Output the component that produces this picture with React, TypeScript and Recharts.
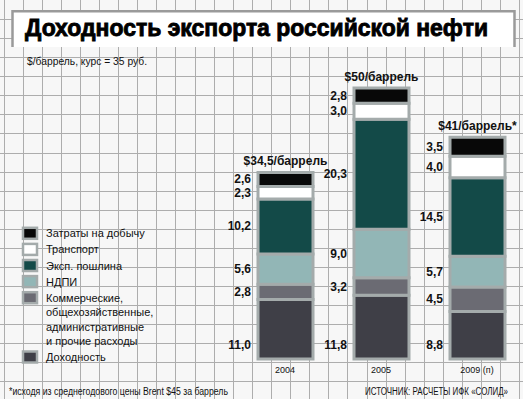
import { BarChart, Bar, XAxis, YAxis, LabelList } from 'recharts';

// Доходность экспорта российской нефти, $/баррель
const years = ['2004', '2005', '2009 (п)'];
const dokhodnost = [11.0, 11.8, 8.8];
const kommercheskie = [2.8, 3.2, 4.5];
const ndpi = [5.6, 9.0, 5.7];
const poshlina = [10.2, 20.3, 14.5];
const transport = [2.3, 3.0, 4.0];
const zatraty = [2.6, 2.8, 3.5];
const totalLabels = ['$34,5/баррель', '$50/баррель', '$41/баррель*'];

const rows = years.map((year, i) => ({
  year,
  dokhodnost: dokhodnost[i],
  kommercheskie: kommercheskie[i],
  ndpi: ndpi[i],
  poshlina: poshlina[i],
  transport: transport[i],
  zatraty: zatraty[i],
  total: totalLabels[i],
}));

// bottom to top
const series = [
  { key: 'dokhodnost', color: '#3f3f47' },
  { key: 'kommercheskie', color: '#6b6b73' },
  { key: 'ndpi', color: '#92b6b6' },
  { key: 'poshlina', color: '#134a48' },
  { key: 'transport', color: '#ffffff' },
  { key: 'zatraty', color: '#080808' },
];

const legendItems = [
  { lines: ['Затраты на добычу'], color: '#080808' },
  { lines: ['Транспорт'], color: '#ffffff' },
  { lines: ['Эксп. пошлина'], color: '#134a48' },
  { lines: ['НДПИ'], color: '#92b6b6' },
  { lines: ['Коммерческие,', 'общехозяйственные,', 'административные', 'и прочие расходы'], color: '#6b6b73' },
  { lines: ['Доходность'], color: '#3f3f47' },
];

const FONT = '"Liberation Sans", Arial, sans-serif';
const BORDER = '#a4abab';
const W = 523;
const H = 399;

const fmt = (v: number) => v.toFixed(1).replace('.', ',');

const sideLabel = (atBottom: boolean) => (props: any) => {
  const { x, y, width, height, value } = props;
  const ty = atBottom ? y + height - 14 : y + height / 2;
  return (
    <text x={x - 7} y={ty} textAnchor="end" dominantBaseline="central"
      fontFamily={FONT} fontSize={12} fontWeight="bold" fill="#111">
      {fmt(value)}
    </text>
  );
};

const topLabel = (props: any) => {
  const { x, y, width, value } = props;
  return (
    <text x={x + width / 2} y={y - 11} textAnchor="middle" dominantBaseline="central"
      fontFamily={FONT} fontSize={12} fontWeight="bold" fill="#111">
      {value}
    </text>
  );
};

const Background = () => {
  const vlines = [];
  for (let x = 3.6; x < W; x += 19.1) vlines.push(Math.round(x) + 0.5);
  const hlines = [];
  for (let y = 19.3; y < H; y += 19.03) hlines.push(Math.round(y) + 0.5);

  let ly = 233.3;
  const legend = legendItems.map((item, i) => {
    const cy = ly;
    ly += 16.1 + (item.lines.length - 1) * 14.4;
    return (
      <g key={i}>
        <rect x={23} y={cy - 5.5} width={14} height={11} fill={item.color} stroke={BORDER} strokeWidth={2.5} />
        {item.lines.map((t, j) => (
          <text key={j} x={46} y={cy + j * 14.4} dominantBaseline="central"
            fontFamily={FONT} fontSize={11} fill="#111">{t}</text>
        ))}
      </g>
    );
  });

  return (
    <svg width={W} height={H} style={{ position: 'absolute', left: 0, top: 0 }}>
      <rect x={0} y={0} width={W} height={H} fill="#f7f7f7" />
      {vlines.map((x) => <line key={'v' + x} x1={x} x2={x} y1={0} y2={H} stroke="#adadad" strokeWidth={1} />)}
      {hlines.map((y) => <line key={'h' + y} x1={0} x2={W} y1={y} y2={y} stroke="#adadad" strokeWidth={1} />)}

      <rect x={13} y={11} width={501} height={36} fill="#ffffff" />
      <path d="M12.5,47 L12.5,11.2 L514.5,11.2 L514.5,47" fill="none" stroke="#9a9a9a" strokeWidth={2.5} />
      <text x={25} y={35.5} fontFamily={FONT} fontSize={24.5} fontWeight="bold" fill="#000"
        stroke="#000" strokeWidth={0.9} textLength={463} lengthAdjust="spacingAndGlyphs">
        Доходность экспорта российской нефти
      </text>

      <text x={27} y={65} fontFamily={FONT} fontSize={11} fill="#111"
        textLength={120} lengthAdjust="spacingAndGlyphs">
        $/баррель, курс = 35 руб.
      </text>

      {legend}

      <text x={9} y={394.5} fontFamily={FONT} fontSize={10} fill="#111"
        textLength={219} lengthAdjust="spacingAndGlyphs">
        *исходя из среднегодового цены Brent $45 за баррель
      </text>
      <text x={365} y={394.5} fontFamily={FONT} fontSize={10} fill="#111"
        textLength={143} lengthAdjust="spacingAndGlyphs">
        ИСТОЧНИК: РАСЧЕТЫ ИФК «СОЛИД»
      </text>
    </svg>
  );
};

export default function App() {
  return (
    <div style={{ position: 'fixed', left: 0, top: 0, width: W, height: H, overflow: 'hidden' }}>
      <Background />
      <div style={{ position: 'absolute', left: 0, top: 0 }}>
        <BarChart
          width={530}
          height={H}
          data={rows}
          margin={{ top: 88, right: 5, left: 237, bottom: 0 }}
          barSize={55}
        >
          <XAxis
            dataKey="year"
            axisLine={false}
            tickLine={false}
            height={40}
            interval={0}
            tick={{ fontFamily: FONT, fontSize: 9, fill: '#111' }}
          />
          <YAxis hide domain={[0, 50.1]} />
          {series.map((s, i) => (
            <Bar
              key={s.key}
              dataKey={s.key}
              stackId="a"
              fill={s.color}
              stroke={BORDER}
              strokeWidth={3}
              isAnimationActive={false}
            >
              <LabelList dataKey={s.key} content={sideLabel(i === 0)} />
              {i === series.length - 1 && <LabelList dataKey="total" content={topLabel} />}
            </Bar>
          ))}
        </BarChart>
      </div>
    </div>
  );
}
